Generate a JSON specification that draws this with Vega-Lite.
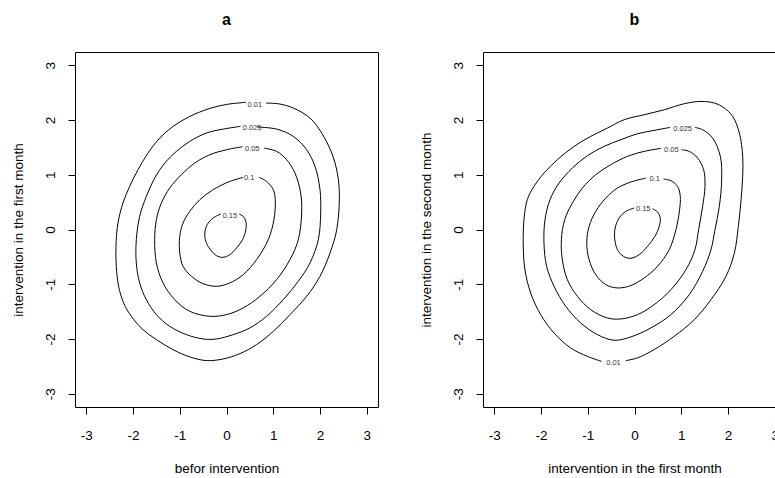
{
"$schema": "https://vega.github.io/schema/vega-lite/v6.json",
"background": "white",
"padding": {"left": 10, "top": 11, "right": 0, "bottom": 0},
"spacing": 39,
"config": {
 "view": {"stroke": "black", "strokeWidth": 1},
 "font": "Liberation Sans",
 "axis": {"domain": false, "grid": false, "tickColor": "black", "tickSize": 7, "labelColor": "black", "titleColor": "black", "labelFont": "Liberation Sans", "titleFont": "Liberation Sans", "labelFontSize": 13.5, "titleFontSize": 13.5, "titleFontWeight": "normal", "values": [-3,-2,-1,0,1,2,3], "labelExpr": "'' + datum.value"},
 "axisX": {"labelPadding": 14, "titlePadding": 20},
 "axisY": {"labelAngle": -90, "labelPadding": 11, "titlePadding": 18},
 "title": {"fontSize": 16, "fontWeight": "bold", "font": "Liberation Sans", "offset": 24, "anchor": "middle", "color": "black"}
},
"datasets": {
 "lineA": [
{"c":"0.01","o":0,"x":0.414,"y":2.321},{"c":"0.01","o":1,"x":0,"y":2.283},{"c":"0.01","o":2,"x":-0.357,"y":2.21},{"c":"0.01","o":3,"x":-0.786,"y":2.064},{"c":"0.01","o":4,"x":-1.143,"y":1.882},{"c":"0.01","o":5,"x":-1.429,"y":1.669},{"c":"0.01","o":6,"x":-1.679,"y":1.395},{"c":"0.01","o":7,"x":-1.893,"y":1.091},{"c":"0.01","o":8,"x":-2.071,"y":0.787},{"c":"0.01","o":9,"x":-2.214,"y":0.483},{"c":"0.01","o":10,"x":-2.321,"y":0.118},{"c":"0.01","o":11,"x":-2.364,"y":-0.307},{"c":"0.01","o":12,"x":-2.357,"y":-0.672},{"c":"0.01","o":13,"x":-2.307,"y":-1.037},{"c":"0.01","o":14,"x":-2.2,"y":-1.341},{"c":"0.01","o":15,"x":-2.036,"y":-1.584},{"c":"0.01","o":16,"x":-1.786,"y":-1.828},{"c":"0.01","o":17,"x":-1.5,"y":-2.01},{"c":"0.01","o":18,"x":-1.143,"y":-2.193},{"c":"0.01","o":19,"x":-0.786,"y":-2.326},{"c":"0.01","o":20,"x":-0.429,"y":-2.393},{"c":"0.01","o":21,"x":-0.071,"y":-2.363},{"c":"0.01","o":22,"x":0.286,"y":-2.266},{"c":"0.01","o":23,"x":0.643,"y":-2.102},{"c":"0.01","o":24,"x":1.0,"y":-1.859},{"c":"0.01","o":25,"x":1.357,"y":-1.555},{"c":"0.01","o":26,"x":1.714,"y":-1.22},{"c":"0.01","o":27,"x":2.0,"y":-0.855},{"c":"0.01","o":28,"x":2.214,"y":-0.429},{"c":"0.01","o":29,"x":2.357,"y":-0.004},{"c":"0.01","o":30,"x":2.414,"y":0.605},{"c":"0.01","o":31,"x":2.371,"y":1.03},{"c":"0.01","o":32,"x":2.25,"y":1.395},{"c":"0.01","o":33,"x":2.036,"y":1.76},{"c":"0.01","o":34,"x":1.786,"y":2.034},{"c":"0.01","o":35,"x":1.429,"y":2.217},{"c":"0.01","o":36,"x":1.143,"y":2.29},{"c":"0.01","o":37,"x":0.843,"y":2.308},
{"c":"0.025","o":0,"x":0.3,"y":1.882},{"c":"0.025","o":1,"x":-0.071,"y":1.833},{"c":"0.025","o":2,"x":-0.429,"y":1.761},{"c":"0.025","o":3,"x":-0.786,"y":1.608},{"c":"0.025","o":4,"x":-1.071,"y":1.426},{"c":"0.025","o":5,"x":-1.321,"y":1.213},{"c":"0.025","o":6,"x":-1.536,"y":0.939},{"c":"0.025","o":7,"x":-1.714,"y":0.605},{"c":"0.025","o":8,"x":-1.857,"y":0.24},{"c":"0.025","o":9,"x":-1.929,"y":-0.186},{"c":"0.025","o":10,"x":-1.929,"y":-0.611},{"c":"0.025","o":11,"x":-1.857,"y":-0.976},{"c":"0.025","o":12,"x":-1.714,"y":-1.28},{"c":"0.025","o":13,"x":-1.5,"y":-1.554},{"c":"0.025","o":14,"x":-1.214,"y":-1.767},{"c":"0.025","o":15,"x":-0.857,"y":-1.919},{"c":"0.025","o":16,"x":-0.5,"y":-1.998},{"c":"0.025","o":17,"x":-0.214,"y":-1.998},{"c":"0.025","o":18,"x":0.143,"y":-1.919},{"c":"0.025","o":19,"x":0.5,"y":-1.797},{"c":"0.025","o":20,"x":0.857,"y":-1.584},{"c":"0.025","o":21,"x":1.214,"y":-1.28},{"c":"0.025","o":22,"x":1.536,"y":-0.945},{"c":"0.025","o":23,"x":1.786,"y":-0.611},{"c":"0.025","o":24,"x":1.964,"y":-0.186},{"c":"0.025","o":25,"x":2.014,"y":0.3},{"c":"0.025","o":26,"x":2.0,"y":0.726},{"c":"0.025","o":27,"x":1.893,"y":1.152},{"c":"0.025","o":28,"x":1.714,"y":1.456},{"c":"0.025","o":29,"x":1.429,"y":1.699},{"c":"0.025","o":30,"x":1.071,"y":1.833},{"c":"0.025","o":31,"x":0.657,"y":1.87},
{"c":"0.05","o":0,"x":0.343,"y":1.511},{"c":"0.05","o":1,"x":0,"y":1.456},{"c":"0.05","o":2,"x":-0.357,"y":1.365},{"c":"0.05","o":3,"x":-0.679,"y":1.213},{"c":"0.05","o":4,"x":-0.964,"y":1.0},{"c":"0.05","o":5,"x":-1.214,"y":0.757},{"c":"0.05","o":6,"x":-1.393,"y":0.483},{"c":"0.05","o":7,"x":-1.5,"y":0.179},{"c":"0.05","o":8,"x":-1.536,"y":-0.186},{"c":"0.05","o":9,"x":-1.5,"y":-0.611},{"c":"0.05","o":10,"x":-1.357,"y":-0.976},{"c":"0.05","o":11,"x":-1.107,"y":-1.28},{"c":"0.05","o":12,"x":-0.786,"y":-1.493},{"c":"0.05","o":13,"x":-0.357,"y":-1.584},{"c":"0.05","o":14,"x":0,"y":-1.554},{"c":"0.05","o":15,"x":0.357,"y":-1.432},{"c":"0.05","o":16,"x":0.714,"y":-1.22},{"c":"0.05","o":17,"x":1.071,"y":-0.915},{"c":"0.05","o":18,"x":1.357,"y":-0.55},{"c":"0.05","o":19,"x":1.536,"y":-0.186},{"c":"0.05","o":20,"x":1.607,"y":0.3},{"c":"0.05","o":21,"x":1.586,"y":0.665},{"c":"0.05","o":22,"x":1.464,"y":1.03},{"c":"0.05","o":23,"x":1.286,"y":1.274},{"c":"0.05","o":24,"x":1.071,"y":1.426},{"c":"0.05","o":25,"x":0.807,"y":1.486},
{"c":"0.1","o":0,"x":0.357,"y":0.951},{"c":"0.1","o":1,"x":0.071,"y":0.878},{"c":"0.1","o":2,"x":-0.286,"y":0.726},{"c":"0.1","o":3,"x":-0.571,"y":0.544},{"c":"0.1","o":4,"x":-0.786,"y":0.331},{"c":"0.1","o":5,"x":-0.929,"y":0.118},{"c":"0.1","o":6,"x":-1.0,"y":-0.125},{"c":"0.1","o":7,"x":-1.0,"y":-0.429},{"c":"0.1","o":8,"x":-0.929,"y":-0.672},{"c":"0.1","o":9,"x":-0.75,"y":-0.854},{"c":"0.1","o":10,"x":-0.5,"y":-0.988},{"c":"0.1","o":11,"x":-0.214,"y":-1.037},{"c":"0.1","o":12,"x":0.071,"y":-0.976},{"c":"0.1","o":13,"x":0.357,"y":-0.824},{"c":"0.1","o":14,"x":0.643,"y":-0.55},{"c":"0.1","o":15,"x":0.893,"y":-0.186},{"c":"0.1","o":16,"x":1.014,"y":0.179},{"c":"0.1","o":17,"x":1.043,"y":0.544},{"c":"0.1","o":18,"x":1.0,"y":0.726},{"c":"0.1","o":19,"x":0.857,"y":0.878},{"c":"0.1","o":20,"x":0.7,"y":0.951},
{"c":"0.15","o":0,"x":-0.121,"y":0.284},{"c":"0.15","o":1,"x":-0.286,"y":0.21},{"c":"0.15","o":2,"x":-0.414,"y":0.088},{"c":"0.15","o":3,"x":-0.464,"y":-0.064},{"c":"0.15","o":4,"x":-0.443,"y":-0.216},{"c":"0.15","o":5,"x":-0.357,"y":-0.356},{"c":"0.15","o":6,"x":-0.214,"y":-0.477},{"c":"0.15","o":7,"x":-0.071,"y":-0.508},{"c":"0.15","o":8,"x":0.071,"y":-0.459},{"c":"0.15","o":9,"x":0.214,"y":-0.337},{"c":"0.15","o":10,"x":0.343,"y":-0.186},{"c":"0.15","o":11,"x":0.414,"y":-0.004},{"c":"0.15","o":12,"x":0.414,"y":0.149},{"c":"0.15","o":13,"x":0.357,"y":0.24},{"c":"0.15","o":14,"x":0.271,"y":0.282}
 ],
 "labA": [
{"c":"0.01","x":0.607,"y":2.27},{"c":"0.025","x":0.55,"y":1.86},{"c":"0.05","x":0.55,"y":1.475},{"c":"0.1","x":0.486,"y":0.933},{"c":"0.15","x":0.071,"y":0.24}
 ],
 "lineB": [
{"c":"0.01","o":0,"x":-0.707,"y":-2.407},{"c":"0.01","o":1,"x":-1.007,"y":-2.315},{"c":"0.01","o":2,"x":-1.364,"y":-2.163},{"c":"0.01","o":3,"x":-1.721,"y":-1.889},{"c":"0.01","o":4,"x":-2.007,"y":-1.554},{"c":"0.01","o":5,"x":-2.221,"y":-1.159},{"c":"0.01","o":6,"x":-2.343,"y":-0.733},{"c":"0.01","o":7,"x":-2.379,"y":-0.307},{"c":"0.01","o":8,"x":-2.364,"y":0.179},{"c":"0.01","o":9,"x":-2.293,"y":0.544},{"c":"0.01","o":10,"x":-2.15,"y":0.787},{"c":"0.01","o":11,"x":-1.936,"y":1.03},{"c":"0.01","o":12,"x":-1.65,"y":1.274},{"c":"0.01","o":13,"x":-1.293,"y":1.517},{"c":"0.01","o":14,"x":-0.936,"y":1.7},{"c":"0.01","o":15,"x":-0.579,"y":1.852},{"c":"0.01","o":16,"x":-0.221,"y":2.004},{"c":"0.01","o":17,"x":0.207,"y":2.095},{"c":"0.01","o":18,"x":0.636,"y":2.186},{"c":"0.01","o":19,"x":1.064,"y":2.296},{"c":"0.01","o":20,"x":1.421,"y":2.338},{"c":"0.01","o":21,"x":1.707,"y":2.308},{"c":"0.01","o":22,"x":1.921,"y":2.217},{"c":"0.01","o":23,"x":2.1,"y":2.065},{"c":"0.01","o":24,"x":2.243,"y":1.76},{"c":"0.01","o":25,"x":2.314,"y":1.334},{"c":"0.01","o":26,"x":2.314,"y":0.97},{"c":"0.01","o":27,"x":2.279,"y":0.544},{"c":"0.01","o":28,"x":2.221,"y":0.058},{"c":"0.01","o":29,"x":2.136,"y":-0.428},{"c":"0.01","o":30,"x":1.957,"y":-0.854},{"c":"0.01","o":31,"x":1.636,"y":-1.28},{"c":"0.01","o":32,"x":1.279,"y":-1.645},{"c":"0.01","o":33,"x":0.85,"y":-1.949},{"c":"0.01","o":34,"x":0.421,"y":-2.192},{"c":"0.01","o":35,"x":0.064,"y":-2.344},{"c":"0.01","o":36,"x":-0.186,"y":-2.393},
{"c":"0.025","o":0,"x":0.764,"y":1.864},{"c":"0.025","o":1,"x":0.421,"y":1.809},{"c":"0.025","o":2,"x":0.064,"y":1.748},{"c":"0.025","o":3,"x":-0.293,"y":1.639},{"c":"0.025","o":4,"x":-0.65,"y":1.517},{"c":"0.025","o":5,"x":-1.007,"y":1.347},{"c":"0.025","o":6,"x":-1.329,"y":1.122},{"c":"0.025","o":7,"x":-1.614,"y":0.848},{"c":"0.025","o":8,"x":-1.807,"y":0.544},{"c":"0.025","o":9,"x":-1.914,"y":0.179},{"c":"0.025","o":10,"x":-1.936,"y":-0.246},{"c":"0.025","o":11,"x":-1.879,"y":-0.672},{"c":"0.025","o":12,"x":-1.721,"y":-1.037},{"c":"0.025","o":13,"x":-1.471,"y":-1.402},{"c":"0.025","o":14,"x":-1.15,"y":-1.706},{"c":"0.025","o":15,"x":-0.793,"y":-1.919},{"c":"0.025","o":16,"x":-0.436,"y":-2.022},{"c":"0.025","o":17,"x":-0.079,"y":-1.961},{"c":"0.025","o":18,"x":0.35,"y":-1.797},{"c":"0.025","o":19,"x":0.779,"y":-1.554},{"c":"0.025","o":20,"x":1.171,"y":-1.189},{"c":"0.025","o":21,"x":1.457,"y":-0.763},{"c":"0.025","o":22,"x":1.636,"y":-0.368},{"c":"0.025","o":23,"x":1.721,"y":-0.004},{"c":"0.025","o":24,"x":1.814,"y":0.422},{"c":"0.025","o":25,"x":1.864,"y":0.909},{"c":"0.025","o":26,"x":1.836,"y":1.335},{"c":"0.025","o":27,"x":1.671,"y":1.669},{"c":"0.025","o":28,"x":1.457,"y":1.821},{"c":"0.025","o":29,"x":1.293,"y":1.864},
{"c":"0.05","o":0,"x":0.564,"y":1.481},{"c":"0.05","o":1,"x":0.207,"y":1.426},{"c":"0.05","o":2,"x":-0.15,"y":1.335},{"c":"0.05","o":3,"x":-0.507,"y":1.183},{"c":"0.05","o":4,"x":-0.829,"y":1.0},{"c":"0.05","o":5,"x":-1.114,"y":0.757},{"c":"0.05","o":6,"x":-1.329,"y":0.483},{"c":"0.05","o":7,"x":-1.493,"y":0.179},{"c":"0.05","o":8,"x":-1.564,"y":-0.186},{"c":"0.05","o":9,"x":-1.543,"y":-0.55},{"c":"0.05","o":10,"x":-1.436,"y":-0.915},{"c":"0.05","o":11,"x":-1.221,"y":-1.22},{"c":"0.05","o":12,"x":-0.936,"y":-1.463},{"c":"0.05","o":13,"x":-0.579,"y":-1.615},{"c":"0.05","o":14,"x":-0.293,"y":-1.633},{"c":"0.05","o":15,"x":0.064,"y":-1.554},{"c":"0.05","o":16,"x":0.421,"y":-1.372},{"c":"0.05","o":17,"x":0.779,"y":-1.098},{"c":"0.05","o":18,"x":1.1,"y":-0.733},{"c":"0.05","o":19,"x":1.293,"y":-0.368},{"c":"0.05","o":20,"x":1.371,"y":-0.004},{"c":"0.05","o":21,"x":1.457,"y":0.422},{"c":"0.05","o":22,"x":1.507,"y":0.787},{"c":"0.05","o":23,"x":1.479,"y":1.091},{"c":"0.05","o":24,"x":1.35,"y":1.304},{"c":"0.05","o":25,"x":1.171,"y":1.426},{"c":"0.05","o":26,"x":1.007,"y":1.456},
{"c":"0.1","o":0,"x":0.243,"y":0.939},{"c":"0.1","o":1,"x":-0.079,"y":0.866},{"c":"0.1","o":2,"x":-0.364,"y":0.757},{"c":"0.1","o":3,"x":-0.614,"y":0.574},{"c":"0.1","o":4,"x":-0.829,"y":0.331},{"c":"0.1","o":5,"x":-0.971,"y":0.057},{"c":"0.1","o":6,"x":-1.021,"y":-0.246},{"c":"0.1","o":7,"x":-0.971,"y":-0.55},{"c":"0.1","o":8,"x":-0.829,"y":-0.824},{"c":"0.1","o":9,"x":-0.614,"y":-1.006},{"c":"0.1","o":10,"x":-0.364,"y":-1.067},{"c":"0.1","o":11,"x":-0.079,"y":-1.024},{"c":"0.1","o":12,"x":0.207,"y":-0.885},{"c":"0.1","o":13,"x":0.493,"y":-0.672},{"c":"0.1","o":14,"x":0.743,"y":-0.368},{"c":"0.1","o":15,"x":0.886,"y":-0.004},{"c":"0.1","o":16,"x":0.964,"y":0.362},{"c":"0.1","o":17,"x":0.979,"y":0.605},{"c":"0.1","o":18,"x":0.921,"y":0.787},{"c":"0.1","o":19,"x":0.779,"y":0.891},{"c":"0.1","o":20,"x":0.621,"y":0.921},
{"c":"0.15","o":0,"x":-0.007,"y":0.392},{"c":"0.15","o":1,"x":-0.186,"y":0.331},{"c":"0.15","o":2,"x":-0.329,"y":0.21},{"c":"0.15","o":3,"x":-0.414,"y":0.027},{"c":"0.15","o":4,"x":-0.421,"y":-0.186},{"c":"0.15","o":5,"x":-0.364,"y":-0.368},{"c":"0.15","o":6,"x":-0.236,"y":-0.49},{"c":"0.15","o":7,"x":-0.079,"y":-0.526},{"c":"0.15","o":8,"x":0.1,"y":-0.459},{"c":"0.15","o":9,"x":0.279,"y":-0.307},{"c":"0.15","o":10,"x":0.436,"y":-0.125},{"c":"0.15","o":11,"x":0.529,"y":0.057},{"c":"0.15","o":12,"x":0.55,"y":0.21},{"c":"0.15","o":13,"x":0.493,"y":0.319},{"c":"0.15","o":14,"x":0.386,"y":0.38}
 ],
 "labB": [
{"c":"0.01","x":-0.45,"y":-2.44},{"c":"0.025","x":1.029,"y":1.833},{"c":"0.05","x":0.786,"y":1.456},{"c":"0.1","x":0.43,"y":0.927},{"c":"0.15","x":0.186,"y":0.379}
 ]
},
"hconcat": [
 {
  "width": 303, "height": 355,
  "title": "a",
  "layer": [
   {"data": {"name": "lineA"},
    "mark": {"type": "line", "color": "black", "strokeWidth": 1, "interpolate": "catmull-rom"},
    "encoding": {
     "x": {"field": "x", "type": "quantitative", "scale": {"domain": [-3.24, 3.24], "nice": false, "zero": false}, "axis": {"title": "befor intervention"}},
     "y": {"field": "y", "type": "quantitative", "scale": {"domain": [-3.24, 3.24], "nice": false, "zero": false}, "axis": {"title": "intervention in the first month"}},
     "detail": {"field": "c"},
     "order": {"field": "o", "type": "quantitative"}
    }},
   {"data": {"name": "labA"},
    "mark": {"type": "text", "fontSize": 7.5, "color": "#333", "align": "center", "baseline": "middle", "font": "Liberation Sans"},
    "encoding": {
     "x": {"field": "x", "type": "quantitative"},
     "y": {"field": "y", "type": "quantitative"},
     "text": {"field": "c"}
    }}
  ]
 },
 {
  "width": 303, "height": 355,
  "title": "b",
  "layer": [
   {"data": {"name": "lineB"},
    "mark": {"type": "line", "color": "black", "strokeWidth": 1, "interpolate": "catmull-rom"},
    "encoding": {
     "x": {"field": "x", "type": "quantitative", "scale": {"domain": [-3.24, 3.24], "nice": false, "zero": false}, "axis": {"title": "intervention in the first month"}},
     "y": {"field": "y", "type": "quantitative", "scale": {"domain": [-3.24, 3.24], "nice": false, "zero": false}, "axis": {"title": "intervention in the second month"}},
     "detail": {"field": "c"},
     "order": {"field": "o", "type": "quantitative"}
    }},
   {"data": {"name": "labB"},
    "mark": {"type": "text", "fontSize": 7.5, "color": "#333", "align": "center", "baseline": "middle", "font": "Liberation Sans"},
    "encoding": {
     "x": {"field": "x", "type": "quantitative"},
     "y": {"field": "y", "type": "quantitative"},
     "text": {"field": "c"}
    }}
  ]
 }
]
}
